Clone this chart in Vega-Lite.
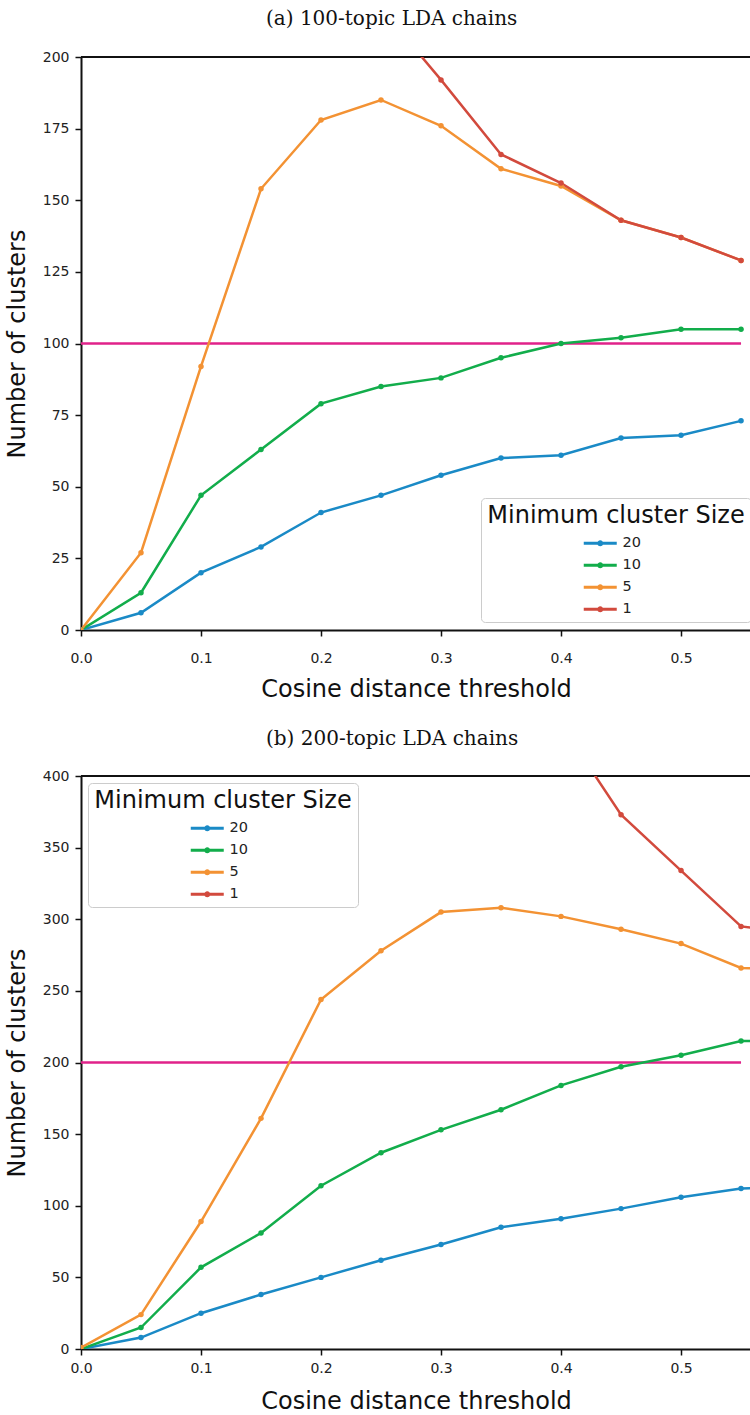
{
  "$schema": "https://vega.github.io/schema/vega-lite/v6.json",
  "background": "white",
  "padding": {"left": 5, "top": 9, "right": 0, "bottom": 0},
  "config": {
    "font": "DejaVu Sans",
    "view": {"stroke": null},
    "axis": {
      "domainColor": "#111111", "domainWidth": 2,
      "tickColor": "#111111", "tickWidth": 1.5, "tickSize": 6,
      "labelFont": "DejaVu Sans", "labelFontSize": 14, "labelColor": "#222222",
      "titleFont": "DejaVu Sans", "titleFontSize": 24, "titleFontWeight": "normal", "titleColor": "#111111",
      "grid": false, "labelFlush": false
    },
    "axisY": {"labelPadding": 6, "titlePadding": 13},
    "title": {"font": "DejaVu Serif", "fontSize": 20, "fontWeight": "normal", "color": "#111111", "anchor": "start", "frame": "group", "baseline": "alphabetic"},
    "legend": {
      "titleFont": "DejaVu Sans", "titleFontSize": 24, "titleFontWeight": "normal", "titleColor": "#111111", "titleAnchor": "middle", "titleLimit": 400, "titlePadding": 8,
      "labelFont": "DejaVu Sans", "labelFontSize": 14.5, "labelColor": "#222222",
      "symbolSize": 121, "symbolStrokeWidth": 0,
      "symbolOffset": 2, "labelOffset": 15, "rowPadding": 7,
      "padding": 6, "strokeColor": "#cccccc", "fillColor": "#ffffff", "cornerRadius": 4
    }
  },
  "datasets": {
    "a": [
      {"threshold": 0.0, "size": "20", "clusters": 0}, {"threshold": 0.05, "size": "20", "clusters": 6}, {"threshold": 0.1, "size": "20", "clusters": 20}, {"threshold": 0.15, "size": "20", "clusters": 29}, {"threshold": 0.2, "size": "20", "clusters": 41}, {"threshold": 0.25, "size": "20", "clusters": 47}, {"threshold": 0.3, "size": "20", "clusters": 54}, {"threshold": 0.35, "size": "20", "clusters": 60}, {"threshold": 0.4, "size": "20", "clusters": 61}, {"threshold": 0.45, "size": "20", "clusters": 67}, {"threshold": 0.5, "size": "20", "clusters": 68}, {"threshold": 0.55, "size": "20", "clusters": 73},
      {"threshold": 0.0, "size": "10", "clusters": 0}, {"threshold": 0.05, "size": "10", "clusters": 13}, {"threshold": 0.1, "size": "10", "clusters": 47}, {"threshold": 0.15, "size": "10", "clusters": 63}, {"threshold": 0.2, "size": "10", "clusters": 79}, {"threshold": 0.25, "size": "10", "clusters": 85}, {"threshold": 0.3, "size": "10", "clusters": 88}, {"threshold": 0.35, "size": "10", "clusters": 95}, {"threshold": 0.4, "size": "10", "clusters": 100}, {"threshold": 0.45, "size": "10", "clusters": 102}, {"threshold": 0.5, "size": "10", "clusters": 105}, {"threshold": 0.55, "size": "10", "clusters": 105},
      {"threshold": 0.0, "size": "5", "clusters": 0}, {"threshold": 0.05, "size": "5", "clusters": 27}, {"threshold": 0.1, "size": "5", "clusters": 92}, {"threshold": 0.15, "size": "5", "clusters": 154}, {"threshold": 0.2, "size": "5", "clusters": 178}, {"threshold": 0.25, "size": "5", "clusters": 185}, {"threshold": 0.3, "size": "5", "clusters": 176}, {"threshold": 0.35, "size": "5", "clusters": 161}, {"threshold": 0.4, "size": "5", "clusters": 155}, {"threshold": 0.45, "size": "5", "clusters": 143}, {"threshold": 0.5, "size": "5", "clusters": 137}, {"threshold": 0.55, "size": "5", "clusters": 129},
      {"threshold": 0.25, "size": "1", "clusters": 217}, {"threshold": 0.3, "size": "1", "clusters": 192}, {"threshold": 0.35, "size": "1", "clusters": 166}, {"threshold": 0.4, "size": "1", "clusters": 156}, {"threshold": 0.45, "size": "1", "clusters": 143}, {"threshold": 0.5, "size": "1", "clusters": 137}, {"threshold": 0.55, "size": "1", "clusters": 129}
    ],
    "b": [
      {"threshold": 0.0, "size": "20", "clusters": 0}, {"threshold": 0.05, "size": "20", "clusters": 8}, {"threshold": 0.1, "size": "20", "clusters": 25}, {"threshold": 0.15, "size": "20", "clusters": 38}, {"threshold": 0.2, "size": "20", "clusters": 50}, {"threshold": 0.25, "size": "20", "clusters": 62}, {"threshold": 0.3, "size": "20", "clusters": 73}, {"threshold": 0.35, "size": "20", "clusters": 85}, {"threshold": 0.4, "size": "20", "clusters": 91}, {"threshold": 0.45, "size": "20", "clusters": 98}, {"threshold": 0.5, "size": "20", "clusters": 106}, {"threshold": 0.55, "size": "20", "clusters": 112}, {"threshold": 0.6, "size": "20", "clusters": 113},
      {"threshold": 0.0, "size": "10", "clusters": 0}, {"threshold": 0.05, "size": "10", "clusters": 15}, {"threshold": 0.1, "size": "10", "clusters": 57}, {"threshold": 0.15, "size": "10", "clusters": 81}, {"threshold": 0.2, "size": "10", "clusters": 114}, {"threshold": 0.25, "size": "10", "clusters": 137}, {"threshold": 0.3, "size": "10", "clusters": 153}, {"threshold": 0.35, "size": "10", "clusters": 167}, {"threshold": 0.4, "size": "10", "clusters": 184}, {"threshold": 0.45, "size": "10", "clusters": 197}, {"threshold": 0.5, "size": "10", "clusters": 205}, {"threshold": 0.55, "size": "10", "clusters": 215}, {"threshold": 0.6, "size": "10", "clusters": 215},
      {"threshold": 0.0, "size": "5", "clusters": 1}, {"threshold": 0.05, "size": "5", "clusters": 24}, {"threshold": 0.1, "size": "5", "clusters": 89}, {"threshold": 0.15, "size": "5", "clusters": 161}, {"threshold": 0.2, "size": "5", "clusters": 244}, {"threshold": 0.25, "size": "5", "clusters": 278}, {"threshold": 0.3, "size": "5", "clusters": 305}, {"threshold": 0.35, "size": "5", "clusters": 308}, {"threshold": 0.4, "size": "5", "clusters": 302}, {"threshold": 0.45, "size": "5", "clusters": 293}, {"threshold": 0.5, "size": "5", "clusters": 283}, {"threshold": 0.55, "size": "5", "clusters": 266}, {"threshold": 0.6, "size": "5", "clusters": 265},
      {"threshold": 0.4, "size": "1", "clusters": 436}, {"threshold": 0.45, "size": "1", "clusters": 373}, {"threshold": 0.5, "size": "1", "clusters": 334}, {"threshold": 0.55, "size": "1", "clusters": 295}, {"threshold": 0.6, "size": "1", "clusters": 290}
    ],
    "refA": [{"start": 0, "end": 0.55, "topics": 100}],
    "refB": [{"start": 0, "end": 0.55, "topics": 200}]
  },
  "spacing": 28,
  "vconcat": [
    {
      "width": 670, "height": 573,
      "title": {"text": "(a) 100-topic LDA chains", "dx": 185, "offset": 21},
      "layer": [
        {
          "data": {"name": "refA"},
          "mark": {"type": "rule", "color": "#e0228a", "strokeWidth": 2.5},
          "encoding": {
            "x": {"field": "start", "type": "quantitative", "scale": {"domain": [0, 0.5583], "nice": false}, "axis": {"values": [0, 0.1, 0.2, 0.3, 0.4, 0.5], "format": ".1f", "title": "Cosine distance threshold", "labelPadding": 15, "titlePadding": 12}},
            "x2": {"field": "end"},
            "y": {"field": "topics", "type": "quantitative", "scale": {"domain": [0, 200], "nice": false}, "axis": {"values": [0, 25, 50, 75, 100, 125, 150, 175, 200], "title": "Number of clusters"}}
          }
        },
        {
          "data": {"values": [{}]},
          "mark": {"type": "rule", "color": "#111111", "strokeWidth": 2},
          "encoding": {"y": {"datum": 200, "type": "quantitative"}}
        },
        {
          "data": {"name": "a"},
          "mark": {"type": "line", "strokeWidth": 2.5, "clip": true},
          "encoding": {
            "x": {"field": "threshold", "type": "quantitative"},
            "y": {"field": "clusters", "type": "quantitative"},
            "stroke": {"field": "size", "type": "nominal", "scale": {"domain": ["1", "5", "10", "20"], "range": ["#d24a3d", "#f39233", "#12ad4b", "#1a8ac6"]}, "legend": null}
          }
        },
        {
          "data": {"name": "a"},
          "mark": {"type": "point", "filled": true, "size": 30, "opacity": 1, "clip": true},
          "encoding": {
            "x": {"field": "threshold", "type": "quantitative"},
            "y": {"field": "clusters", "type": "quantitative"},
            "fill": {"field": "size", "type": "nominal", "scale": {"domain": ["20", "10", "5", "1"], "range": ["#1a8ac6", "#12ad4b", "#f39233", "#d24a3d"]},
              "legend": {"title": "Minimum cluster Size", "orient": "none", "legendX": 400, "legendY": 441, "symbolType": "M-3,-0.27L3,-0.27L3,0.27L-3,0.27Z M-0.55,0A0.55,0.55,0,1,1,0.55,0A0.55,0.55,0,1,1,-0.55,0Z"}}
          }
        }
      ]
    },
    {
      "width": 670, "height": 573,
      "title": {"text": "(b) 200-topic LDA chains", "dx": 185, "offset": 20},
      "layer": [
        {
          "data": {"name": "refB"},
          "mark": {"type": "rule", "color": "#e0228a", "strokeWidth": 2.5},
          "encoding": {
            "x": {"field": "start", "type": "quantitative", "scale": {"domain": [0, 0.5583], "nice": false}, "axis": {"values": [0, 0.1, 0.2, 0.3, 0.4, 0.5], "format": ".1f", "title": "Cosine distance threshold", "labelPadding": 6, "titlePadding": 14}},
            "x2": {"field": "end"},
            "y": {"field": "topics", "type": "quantitative", "scale": {"domain": [0, 400], "nice": false}, "axis": {"values": [0, 50, 100, 150, 200, 250, 300, 350, 400], "title": "Number of clusters"}}
          }
        },
        {
          "data": {"values": [{}]},
          "mark": {"type": "rule", "color": "#111111", "strokeWidth": 2},
          "encoding": {"y": {"datum": 400, "type": "quantitative"}}
        },
        {
          "data": {"name": "b"},
          "mark": {"type": "line", "strokeWidth": 2.5, "clip": true},
          "encoding": {
            "x": {"field": "threshold", "type": "quantitative"},
            "y": {"field": "clusters", "type": "quantitative"},
            "stroke": {"field": "size", "type": "nominal", "scale": {"domain": ["1", "5", "10", "20"], "range": ["#d24a3d", "#f39233", "#12ad4b", "#1a8ac6"]}, "legend": null}
          }
        },
        {
          "data": {"name": "b"},
          "mark": {"type": "point", "filled": true, "size": 30, "opacity": 1, "clip": true},
          "encoding": {
            "x": {"field": "threshold", "type": "quantitative"},
            "y": {"field": "clusters", "type": "quantitative"},
            "fill": {"field": "size", "type": "nominal", "scale": {"domain": ["20", "10", "5", "1"], "range": ["#1a8ac6", "#12ad4b", "#f39233", "#d24a3d"]},
              "legend": {"title": "Minimum cluster Size", "orient": "none", "legendX": 7, "legendY": 7, "symbolType": "M-3,-0.27L3,-0.27L3,0.27L-3,0.27Z M-0.55,0A0.55,0.55,0,1,1,0.55,0A0.55,0.55,0,1,1,-0.55,0Z"}}
          }
        }
      ]
    }
  ],
  "resolve": {"scale": {"fill": "independent", "stroke": "independent", "x": "independent", "y": "independent"}}
}
